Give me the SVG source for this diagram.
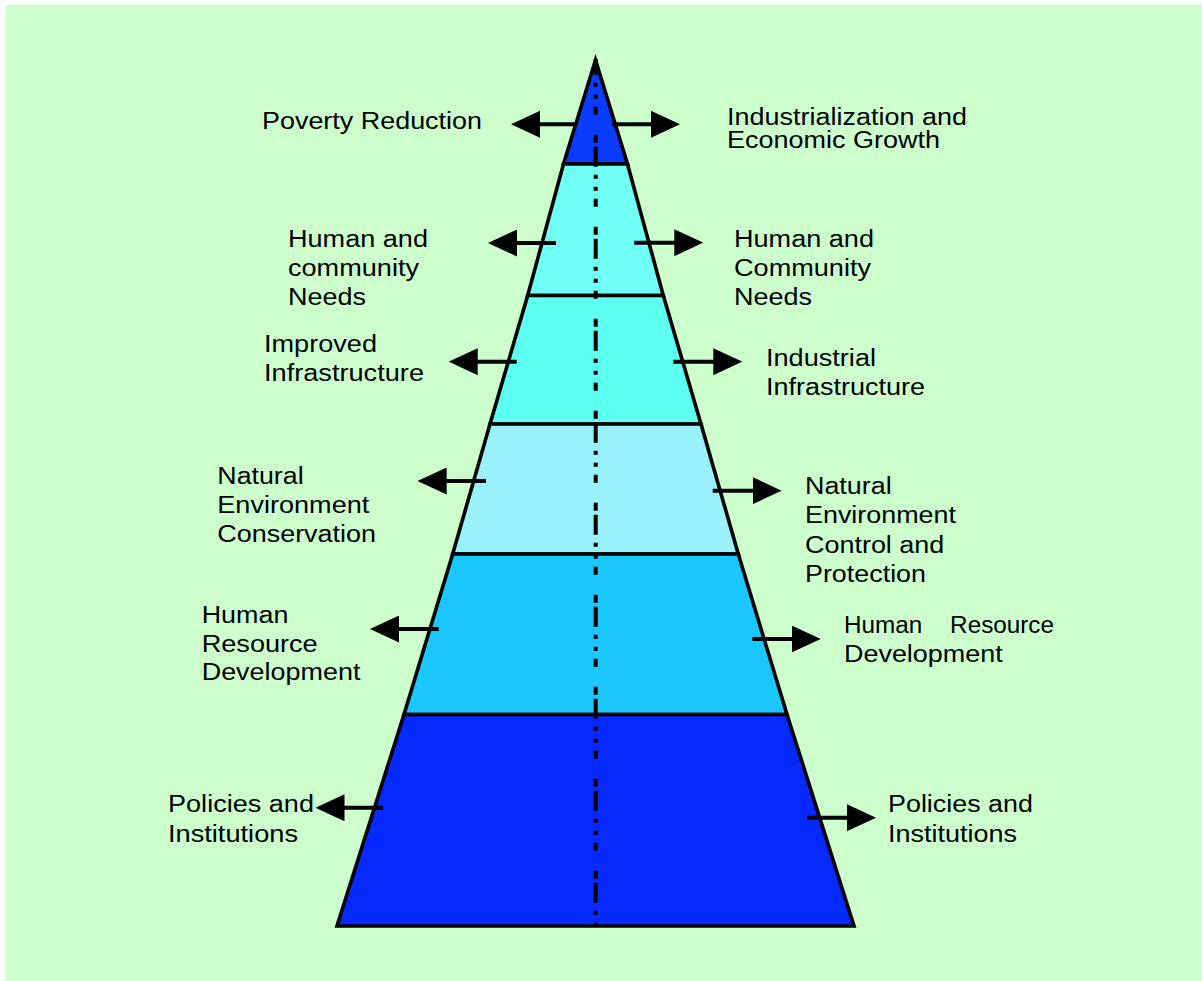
<svg xmlns="http://www.w3.org/2000/svg" width="1202" height="981" viewBox="0 0 1202 981">
<style>
.band{stroke:#000;stroke-width:3.6;stroke-linejoin:miter}
.lbl{font-family:"Liberation Sans",Arial,sans-serif;font-size:23px;fill:#000}
.arr{stroke:#000;stroke-width:4;fill:none;marker-end:url(#head)}
.axis{stroke:#000;stroke-width:4;stroke-dasharray:4 8 4 8 8 20 8 4 20 8;stroke-dashoffset:68.3}
</style>
<defs>
<marker id="head" viewBox="0 0 29 27" refX="1" refY="13.5" markerWidth="29" markerHeight="27" markerUnits="userSpaceOnUse" orient="auto">
<path d="M0,0 L29,13.5 L0,27 z" fill="#000"/>
</marker>
</defs>
<rect x="6" y="5" width="1196" height="976" fill="#CCFFCC"/>
<g id="pyramid">
<polygon id="band1" class="band" fill="#0A3CFF" points="595.5,60 627.5,164 563.5,164"/>
<polygon id="band2" class="band" fill="#6FFFF5" points="563.5,164 627.5,164 663.3,295.5 527.7,295.5"/>
<polygon id="band3" class="band" fill="#5CFFF0" points="527.7,295.5 663.3,295.5 701,424 490,424"/>
<polygon id="band4" class="band" fill="#99F2FA" points="490,424 701,424 738.3,554 452.7,554"/>
<polygon id="band5" class="band" fill="#1AC8FF" points="452.7,554 738.3,554 787,714.5 404,714.5"/>
<polygon id="band6" class="band" fill="#0529FF" points="404,714.5 787,714.5 854,926 337,926"/>
<line id="axis" class="axis" x1="595.7" y1="59" x2="595.7" y2="926"/>
</g>
<g id="connectors">
<line class="arr" x1="577" y1="124.3" x2="539" y2="124.3"/>
<line class="arr" x1="556" y1="243" x2="516" y2="243"/>
<line class="arr" x1="516.7" y1="361.7" x2="476.7" y2="361.7"/>
<line class="arr" x1="486" y1="481" x2="445.7" y2="481"/>
<line class="arr" x1="438.7" y1="629" x2="398" y2="629"/>
<line class="arr" x1="383" y1="807.7" x2="343.5" y2="807.7"/>
<line class="arr" x1="612" y1="124.3" x2="652" y2="124.3"/>
<line class="arr" x1="634.3" y1="242.7" x2="675.3" y2="242.7"/>
<line class="arr" x1="673.3" y1="361.7" x2="714.3" y2="361.7"/>
<line class="arr" x1="712.7" y1="490.7" x2="753.7" y2="490.7"/>
<line class="arr" x1="752.3" y1="639" x2="792.7" y2="639"/>
<line class="arr" x1="807" y1="817.7" x2="848" y2="817.7"/>
</g>
<g id="label-poverty"><text class="lbl" x="262" y="129" textLength="220" lengthAdjust="spacingAndGlyphs">Poverty Reduction</text></g>
<g id="label-industrialization">
<text class="lbl" x="727" y="125" textLength="240" lengthAdjust="spacingAndGlyphs">Industrialization and</text>
<text class="lbl" x="727" y="148" textLength="213" lengthAdjust="spacingAndGlyphs">Economic Growth</text>
</g>
<g id="label-human-left">
<text class="lbl" x="288" y="247" textLength="140" lengthAdjust="spacingAndGlyphs">Human and</text>
<text class="lbl" x="288" y="276" textLength="131" lengthAdjust="spacingAndGlyphs">community</text>
<text class="lbl" x="288" y="305" textLength="78" lengthAdjust="spacingAndGlyphs">Needs</text>
</g>
<g id="label-human-right">
<text class="lbl" x="734" y="246.7" textLength="140" lengthAdjust="spacingAndGlyphs">Human and</text>
<text class="lbl" x="734" y="275.7" textLength="137" lengthAdjust="spacingAndGlyphs">Community</text>
<text class="lbl" x="734" y="304.7" textLength="78" lengthAdjust="spacingAndGlyphs">Needs</text>
</g>
<g id="label-improved">
<text class="lbl" x="264" y="352" textLength="113" lengthAdjust="spacingAndGlyphs">Improved</text>
<text class="lbl" x="264" y="381" textLength="160" lengthAdjust="spacingAndGlyphs">Infrastructure</text>
</g>
<g id="label-industrial">
<text class="lbl" x="766" y="365.7" textLength="110" lengthAdjust="spacingAndGlyphs">Industrial</text>
<text class="lbl" x="766" y="394.7" textLength="159" lengthAdjust="spacingAndGlyphs">Infrastructure</text>
</g>
<g id="label-conservation">
<text class="lbl" x="217.3" y="484.3" textLength="86.3" lengthAdjust="spacingAndGlyphs">Natural</text>
<text class="lbl" x="217.3" y="513.3" textLength="152" lengthAdjust="spacingAndGlyphs">Environment</text>
<text class="lbl" x="217.3" y="542" textLength="158.7" lengthAdjust="spacingAndGlyphs">Conservation</text>
</g>
<g id="label-control">
<text class="lbl" x="805" y="494.3" textLength="86.7" lengthAdjust="spacingAndGlyphs">Natural</text>
<text class="lbl" x="805" y="523.3" textLength="151" lengthAdjust="spacingAndGlyphs">Environment</text>
<text class="lbl" x="805" y="552.7" textLength="139.3" lengthAdjust="spacingAndGlyphs">Control and</text>
<text class="lbl" x="805" y="581.7" textLength="121" lengthAdjust="spacingAndGlyphs">Protection</text>
</g>
<g id="label-hrd-left">
<text class="lbl" x="201.7" y="622.7" textLength="86.7" lengthAdjust="spacingAndGlyphs">Human</text>
<text class="lbl" x="201.7" y="651.7" textLength="116" lengthAdjust="spacingAndGlyphs">Resource</text>
<text class="lbl" x="201.7" y="680" textLength="158.7" lengthAdjust="spacingAndGlyphs">Development</text>
</g>
<g id="label-hrd-right">
<text class="lbl" x="844" y="633.3" word-spacing="20" textLength="210" lengthAdjust="spacingAndGlyphs">Human Resource</text>
<text class="lbl" x="844" y="661.7" textLength="158.7" lengthAdjust="spacingAndGlyphs">Development</text>
</g>
<g id="label-policies-left">
<text class="lbl" x="168" y="812" textLength="146" lengthAdjust="spacingAndGlyphs">Policies and</text>
<text class="lbl" x="168" y="842" textLength="130" lengthAdjust="spacingAndGlyphs">Institutions</text>
</g>
<g id="label-policies-right">
<text class="lbl" x="888" y="812" textLength="145" lengthAdjust="spacingAndGlyphs">Policies and</text>
<text class="lbl" x="888" y="842" textLength="129" lengthAdjust="spacingAndGlyphs">Institutions</text>
</g>
</svg>
